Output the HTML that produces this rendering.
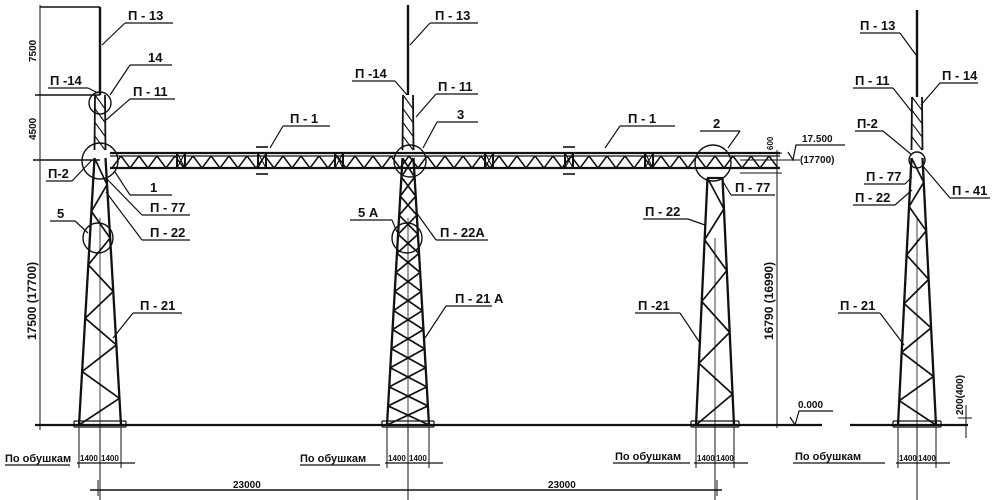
<!DOCTYPE html>
<html><head><meta charset="utf-8"><style>
html,body{margin:0;padding:0;background:#fff;}
svg{display:block;}
text{font-family:"Liberation Sans",sans-serif;font-size:13px;fill:#111;font-weight:bold;}
.s{font-size:10px;}
</style></head><body>
<svg id="d" width="1000" height="500" viewBox="0 0 1000 500" xmlns="http://www.w3.org/2000/svg" stroke="#111" fill="none" stroke-width="1.4">
<g id="g"></g>
<line x1="35" y1="425" x2="822" y2="425" stroke-width="2.2"/>
<line x1="850" y1="425" x2="968" y2="425" stroke-width="2.2"/>
<line x1="110" y1="153" x2="780" y2="153" stroke-width="2.2"/>
<line x1="110" y1="156" x2="780" y2="156" stroke-width="1.2"/>
<line x1="110" y1="168" x2="780" y2="168" stroke-width="2.2"/>
<line x1="40" y1="5" x2="40" y2="430" stroke-width="1"/>
<line x1="40" y1="7" x2="100" y2="7" stroke-width="1.6"/>
<line x1="35" y1="95" x2="100" y2="95" stroke-width="1.4"/>
<line x1="33" y1="160" x2="100" y2="160" stroke-width="1.4"/>
<circle cx="100" cy="103" r="11"/>
<circle cx="100" cy="161" r="18"/>
<circle cx="98" cy="238" r="15"/>
<circle cx="410" cy="161" r="16"/>
<circle cx="407" cy="238" r="15"/>
<circle cx="713" cy="163" r="18"/>
<circle cx="917" cy="160" r="8"/>
<line x1="777" y1="150" x2="777" y2="428" stroke-width="1"/>
<line x1="740" y1="153" x2="782" y2="153" stroke-width="1"/>
<line x1="740" y1="173" x2="782" y2="173" stroke-width="1"/>
<line x1="740" y1="160" x2="800" y2="160" stroke-width="1"/>
<polyline points="788,152 793,160 796,145 845,145" stroke-width="1.2"/>
<polyline points="790,417 795,425 799,411 833,411" stroke-width="1.2"/>
<line x1="966" y1="405" x2="966" y2="438" stroke-width="1"/>
<line x1="958" y1="418" x2="972" y2="418" stroke-width="1"/>
<line x1="90" y1="490" x2="722" y2="490" stroke-width="1.4"/>
<line x1="98" y1="480" x2="98" y2="496" stroke-width="1"/>
<line x1="408" y1="480" x2="408" y2="496" stroke-width="1"/>
<line x1="717" y1="480" x2="717" y2="496" stroke-width="1"/>
<text x="233" y="488" class="s" stroke="none">23000</text>
<text x="548" y="488" class="s" stroke="none">23000</text>
<text transform="translate(36,62) rotate(-90)" class="s" stroke="none">7500</text>
<text transform="translate(36,140) rotate(-90)" class="s" stroke="none">4500</text>
<text transform="translate(36,340) rotate(-90)" style="font-size:12px" stroke="none">17500 (17700)</text>
<text transform="translate(773,340) rotate(-90)" style="font-size:12px" stroke="none">16790 (16990)</text>
<text transform="translate(773,150) rotate(-90)" style="font-size:8px" stroke="none">600</text>
<text transform="translate(963,415) rotate(-90)" class="s" stroke="none">200(400)</text>
<text x="802" y="142" class="s" stroke="none">17.500</text>
<text x="800" y="163" class="s" stroke="none">(17700)</text>
<text x="798" y="408" class="s" stroke="none">0.000</text>
</svg>
<script>
var g=document.getElementById('g'),NS='http://www.w3.org/2000/svg';
function L(x1,y1,x2,y2,w){var e=document.createElementNS(NS,'line');e.setAttribute('x1',x1);e.setAttribute('y1',y1);e.setAttribute('x2',x2);e.setAttribute('y2',y2);if(w)e.setAttribute('stroke-width',w);g.appendChild(e);return e;}
function T(x,y,s,cls){var e=document.createElementNS(NS,'text');e.setAttribute('x',x);e.setAttribute('y',y);e.setAttribute('stroke','none');if(cls)e.setAttribute('class',cls);e.textContent=s;g.appendChild(e);return e;}
function lab(x,y,s,ux1,ux2,px,py,fromRight){T(x,y,s);L(ux1,y+3,ux2,y+3,1.3);var sx=fromRight?ux2:ux1;L(sx,y+3,px,py,1.2);}
function tower(cx,mt,bt,ht,hb,ny,n,cross,gap){
 if(mt!=null)L(cx,mt,cx,bt,2.4);
 var y0=bt;
 if(ny>y0){
 L(cx-ht,y0,cx-ht-0.5,ny,1.8);L(cx+ht,y0,cx+ht+0.5,ny,1.8);
 var k=Math.max(1,Math.floor((ny-y0)/12));
 for(var i=0;i<k;i++){var a=y0+i*(ny-y0)/k,b=a+(ny-y0)/k;L(cx-ht,a,cx+ht,b,1.1);}
 }
 var top=ny+gap, base=425, h0=ht+0.5;
 L(cx-h0,top,cx-hb,base,2.3);L(cx+h0,top,cx+hb,base,2.3);
 for(var i=0;i<n;i++){
  var a=top+(base-top)*i/n,b=top+(base-top)*(i+1)/n;
  var wa=h0+(hb-h0)*i/n,wb=h0+(hb-h0)*(i+1)/n;
  if(i%2==0)L(cx-wa,a,cx+wb,b,1.7);else L(cx+wa,a,cx-wb,b,1.7);
  if(cross){if(i%2==0)L(cx+wa,a,cx-wb,b,1.7);else L(cx-wa,a,cx+wb,b,1.7);}
 }
 L(cx,top+60,cx,base+5,0.8);
 L(cx-hb-5,421,cx+hb+5,421,1.2);L(cx-hb-5,427,cx+hb+5,427,1.2);
 L(cx-hb-5,421,cx-hb-5,427,1.2);L(cx+hb+5,421,cx+hb+5,427,1.2);
 L(cx-hb,427,cx-hb,468,1);L(cx,427,cx,500,1);L(cx+hb,427,cx+hb,468,1);
 L(cx-hb-2,463,cx+hb+14,463,1.2);
 T(cx-hb+1,461,'1400','s').setAttribute('style','font-size:8px');
 T(cx+1,461,'1400','s').setAttribute('style','font-size:8px');
}
tower(100,7,95,5,21,150,10,false,8);
tower(408,5,95,5,21,150,14,true,8);
tower(715,null,178,7,19,178,8,false,0);
tower(917,10,97,5,19,150,11,false,8);
L(707,178,723,178,2.2);
var boxes=[177,258,335,485,565,645];
for(var x=112;x<778;x+=18){L(x,168,x+9,156,1.5);L(x+9,156,x+18,168,1.5);}
boxes.forEach(function(b){L(b,153,b,168,2);L(b+8,153,b+8,168,2);L(b,153,b+8,168,1.1);L(b+8,153,b,168,1.1);});
[258,565].forEach(function(b){L(b-2,147,b+10,147,1.6);L(b-2,174,b+10,174,1.6);});
T(5,462,'По обушкам').setAttribute('style','font-size:11px');L(5,465,70,465,1.2);
T(300,462,'По  обушкам').setAttribute('style','font-size:11px');L(300,465,380,465,1.2);
T(615,460,'По обушкам').setAttribute('style','font-size:11px');L(613,463,690,463,1.2);
T(795,460,'По     обушкам').setAttribute('style','font-size:11px');L(793,463,885,463,1.2);
lab(128,20,'П - 13',125,173,102,45);
lab(50,85,'П -14',48,88,98,93,true);
lab(148,62,'14',130,172,110,95);
lab(133,96,'П - 11',130,175,106,120);
lab(48,178,'П-2',46,72,92,160,true);
lab(150,192,'1',130,172,115,172,false);
lab(150,212,'П - 77',142,190,106,178);
lab(57,218,'5',50,75,88,233,true);
lab(150,237,'П - 22',142,190,106,192);
lab(140,310,'П - 21',133,182,113,338);
lab(435,20,'П - 13',430,478,410,45);
lab(355,78,'П -14',352,395,407,95,true);
lab(438,91,'П - 11',436,478,416,117);
lab(457,119,'3',437,478,423,148);
lab(358,217,'5 А',350,392,397,232,true);
lab(440,237,'П - 22А',436,488,416,212);
lab(455,303,'П - 21 А',446,492,425,338);
lab(290,123,'П - 1',283,330,270,148);
lab(628,123,'П - 1',620,675,605,148);
lab(713,128,'2',700,740,728,148,true);
lab(735,192,'П - 77',731,775,722,180);
lab(645,216,'П - 22',643,688,705,225,true);
lab(638,310,'П -21',635,680,700,343,true);
lab(860,30,'П - 13',860,900,916,55,true);
lab(855,85,'П - 11',853,893,912,112,true);
lab(942,80,'П - 14',940,978,921,105);
lab(857,128,'П-2',855,883,912,155,true);
lab(866,181,'П - 77',864,905,912,177,true);
lab(855,202,'П - 22',853,895,912,190,true);
lab(952,195,'П - 41',950,990,922,165);
lab(840,310,'П - 21',838,880,904,345,true);
</script>
</body></html>
